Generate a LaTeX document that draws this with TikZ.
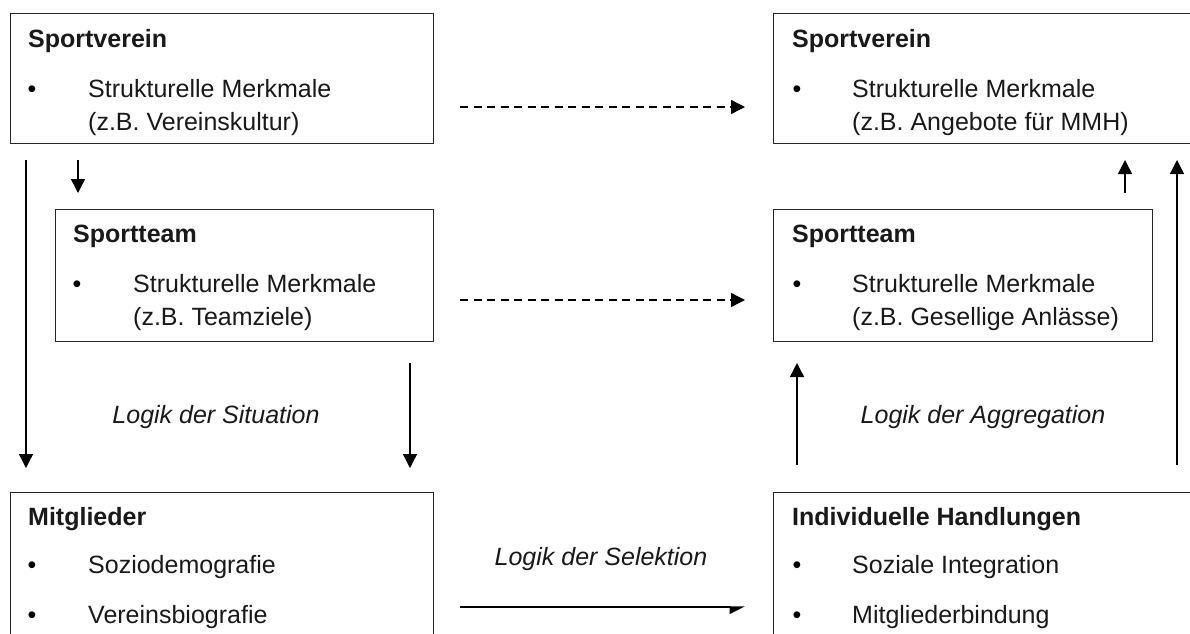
\documentclass[tikz,border=0pt]{standalone}
\usepackage{fontspec}
\setmainfont{Liberation Sans}
\usetikzlibrary{arrows.meta}
\begin{document}
\begin{tikzpicture}[x=1pt,y=-1pt,
  box/.style={draw=black!85, line width=1.4pt, inner sep=0pt, anchor=north west},
  txt/.style={anchor=base west, inner sep=0pt, font=\fontsize{25}{30}\selectfont, text=black!90},
  ttl/.style={txt, font=\fontsize{25}{30}\selectfont\bfseries},
  bul/.style={anchor=base, inner sep=0pt, font=\fontsize{25}{30}\selectfont},
  lbl/.style={anchor=base, inner sep=0pt, font=\fontsize{25}{30}\selectfont\itshape, text=black!90},
  arr/.style={line width=1.4pt, -{Triangle[length=14pt,width=14pt]}},
  darr/.style={arr, dash pattern=on 8pt off 5.5pt},
  harr/.style={line width=1.4pt, -{Triangle[right,length=14pt,width=14pt]}}]
\useasboundingbox (0,0) rectangle (1190,633);
\clip (0,0) rectangle (1190,633);
\fill[white] (0,0) rectangle (1190,633);

% boxes
\node[box, minimum width=423pt, minimum height=130pt] (sv1) at (10,13) {};
\node[box, minimum width=378pt, minimum height=132pt] (st1) at (55,209) {};
\node[box, minimum width=440pt, minimum height=130pt] (sv2) at (773,13) {};
\node[box, minimum width=379pt, minimum height=132pt] (st2) at (773,209) {};
\node[box, minimum width=423pt, minimum height=170pt] (mg) at (10,492) {};
\node[box, minimum width=440pt, minimum height=170pt] (ih) at (773,492) {};

% texts: Sportverein left
\node[ttl] (sv1t) at (28,47) {Sportverein};
\node[bul] (sv1b) at (32,97) {\textbullet};
\node[txt] (sv1a) at (88,97) {Strukturelle Merkmale};
\node[txt] (sv1c) at (88,130) {(z.B. Vereinskultur)};
% Sportteam left
\node[ttl] (st1t) at (73,242) {Sportteam};
\node[bul] (st1b) at (77,292) {\textbullet};
\node[txt] (st1a) at (133,292) {Strukturelle Merkmale};
\node[txt] (st1c) at (133,325) {(z.B. Teamziele)};
% Sportverein right
\node[ttl] (sv2t) at (792,47) {Sportverein};
\node[bul] (sv2b) at (797,97) {\textbullet};
\node[txt] (sv2a) at (852,97) {Strukturelle Merkmale};
\node[txt] (sv2c) at (852,130) {(z.B. Angebote für MMH)};
% Sportteam right
\node[ttl] (st2t) at (792,242) {Sportteam};
\node[bul] (st2b) at (797,292) {\textbullet};
\node[txt] (st2a) at (852,292) {Strukturelle Merkmale};
\node[txt] (st2c) at (852,325) {(z.B. Gesellige Anlässe)};
% Mitglieder
\node[ttl] (mgt) at (28,525) {Mitglieder};
\node[bul] (mgb1) at (32,573) {\textbullet};
\node[txt] (mga) at (88,573) {Soziodemografie};
\node[bul] (mgb2) at (32,623) {\textbullet};
\node[txt] (mgc) at (88,623) {Vereinsbiografie};
% Individuelle Handlungen
\node[ttl] (iht) at (792,525) {Individuelle Handlungen};
\node[bul] (ihb1) at (797,573) {\textbullet};
\node[txt] (iha) at (852,573) {Soziale Integration};
\node[bul] (ihb2) at (797,623) {\textbullet};
\node[txt] (ihc) at (852,623) {Mitgliederbindung};

% labels
\node[lbl] (ls) at (216,423) {Logik der Situation};
\node[lbl] (la) at (983,423) {Logik der Aggregation};
\node[lbl] (lsel) at (601,565) {Logik der Selektion};

% connector end points
\coordinate (a1s) at (26,160);   \coordinate (a1e) at (26,468);
\coordinate (a2s) at (78,160);   \coordinate (a2e) at (78,193);
\coordinate (a3s) at (410,363);  \coordinate (a3e) at (410,468);
\coordinate (a4s) at (797,465);  \coordinate (a4e) at (797,363);
\coordinate (a5s) at (1125,193); \coordinate (a5e) at (1125,160);
\coordinate (a6s) at (1177,465); \coordinate (a6e) at (1177,160);
\coordinate (d1s) at (460,107);  \coordinate (d1e) at (745,107);
\coordinate (d2s) at (460,300);  \coordinate (d2e) at (745,300);
\coordinate (s1s) at (460,607);  \coordinate (s1e) at (745,607);

\draw[arr] (a1s) -- (a1e);
\draw[arr] (a2s) -- (a2e);
\draw[arr] (a3s) -- (a3e);
\draw[arr] (a4s) -- (a4e);
\draw[arr] (a5s) -- (a5e);
\draw[arr] (a6s) -- (a6e);
\draw[darr] (d1s) -- (d1e);
\draw[darr] (d2s) -- (d2e);
\draw[harr] (s1s) -- (s1e);
\end{tikzpicture}
\end{document}
